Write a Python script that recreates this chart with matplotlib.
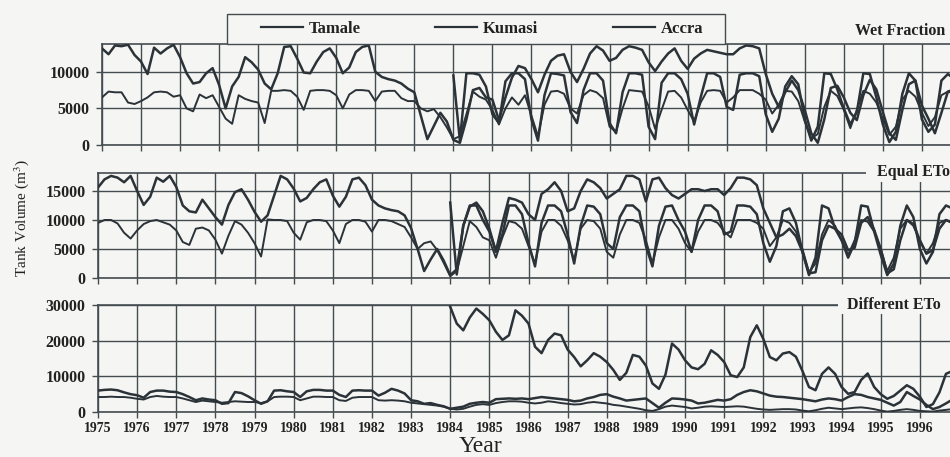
import numpy as np
import matplotlib
matplotlib.use("Agg")
import matplotlib.pyplot as plt
from matplotlib.lines import Line2D
from matplotlib.patches import Rectangle

plt.rcParams['font.family'] = ['Liberation Serif', 'DejaVu Serif']
plt.rcParams['mathtext.fontset'] = 'stix'

# time axis: six readings per year, 1975 .. 1996
years = np.arange(1975, 1997)
steps = np.array([0, 1, 2, 3, 4, 5]) / 6.0
t_all = (years[:, None] + steps[None, :]).ravel()
t_late = t_all[t_all >= 1984]

labels = ["Tamale", "Kumasi", "Accra"]

# --- Wet Fraction (m3) ---
wet_tamale = [
    13200, 12400, 13600, 13500, 13700, 12300,
    11400, 9700, 13300, 12500, 13200, 13700,
    12000, 9800, 8400, 8600, 9800, 10500,
    8200, 5000, 8000, 9300, 12000, 11300,
    10300, 8400, 7600, 9800, 13400, 13500,
    11800, 9900, 9800, 11400, 12700, 13200,
    11900, 9800, 10600, 12700, 13400, 13600,
    10000, 9300, 9000, 8800, 8400, 7700,
    7200, 4000, 800, 2600, 4400, 3200,
    700, 300, 3500, 7500, 7800, 6500,
    6200, 3400, 6500, 9200, 10800, 10500,
    9000, 7200, 9600, 11500, 12200, 12400,
    10000, 8600, 10400, 12500, 13500, 12900,
    11500, 11900, 13000, 13500, 13300, 13000,
    11300, 10100, 11400, 12500, 13200, 11500,
    10400, 11800, 12500, 13000, 12800, 12600,
    12400, 12400, 13200, 13600, 13500, 13200,
    9700, 7000, 5200, 7200, 8800, 7500,
    4800, 1600, 300, 3500, 7800, 8100,
    6500, 4400, 3400, 6800, 8900, 7600,
    4500, 1600, 700, 4800, 8300, 8800,
    5400, 3600, 1600, 4400, 7300, 7600,
]
wet_kumasi = [
    6500, 7300, 7200, 7200, 5800, 5600,
    6000, 6500, 7200, 7300, 7200, 6600,
    6800, 5000, 4600, 6900, 6400, 6800,
    5200, 3600, 2900, 6800, 6300, 6000,
    5800, 3000, 7400, 7400, 7500, 7400,
    6600, 4800, 7400, 7500, 7500, 7400,
    6800, 5000, 6900, 7500, 7500, 7400,
    6000, 7300, 7400, 7400, 6400, 6000,
    6000, 5000, 4600, 4900, 3800, 2400,
    800, 1200, 4200, 7300, 6600, 6200,
    4800, 2800, 5000, 6500, 5500, 6800,
    4000, 1200, 5500, 7300, 7400, 7000,
    5000, 4300, 6800, 7500, 7200, 6400,
    2500, 1800, 5000, 7500, 7400, 7300,
    5300, 2200, 4800, 7300, 7400, 6500,
    4800, 3200, 5800, 7400, 7500, 7400,
    5800, 6500, 7500, 7500, 7500, 7000,
    6200, 4300, 5500, 7400, 7300, 6000,
    3200, 900, 1500, 5200, 7400, 6700,
    4800, 2300, 4800, 7400, 7000, 5800,
    3600, 1400, 2500, 6200, 7400, 6600,
    4400, 2600, 3800, 6800, 7300, 7000,
]
wet_accra = [
    9500, 600, 9800, 9800, 9600, 8000,
    4200, 3000, 8700, 9800, 9800, 9000,
    3500, 600, 6800, 9800, 9700, 9500,
    4500, 3000, 7500, 9800, 9800, 8800,
    3000, 1600, 7200, 9800, 9800, 9600,
    2500, 800, 8500, 9800, 9800, 9000,
    7000, 2800, 6500, 9800, 9800, 9300,
    5200, 4800, 9600, 9800, 9800, 9400,
    4200, 1800, 3600, 8000, 9400, 8300,
    3500, 600, 2500, 9800, 9700, 7600,
    5000, 2800, 4500, 9800, 9700, 6500,
    2800, 400, 1800, 7000, 9800, 8800,
    3500, 1800, 2800, 8800, 9700, 9000,
]

# --- Equal ETo (m3) ---
eq_tamale = [
    15600, 17000, 17600, 17300, 16500, 17600,
    15000, 12600, 14000, 17300, 16600, 17600,
    15700, 12500, 11500, 11300, 13500, 12000,
    10500, 9200, 12600, 14800, 15300, 13500,
    11400, 9700, 10800, 14200, 17600, 17000,
    15400, 13200, 13800, 15300, 16500, 17000,
    14200, 12300, 14000, 17000, 17300, 16000,
    13500, 12500, 12000, 11700, 11500, 10800,
    8600, 5000, 1200, 3200, 5000, 3000,
    500, 1500, 9000, 12300, 13000, 11500,
    8500, 4600, 9500, 13800, 13500, 13000,
    11000, 10000, 14500, 15300, 16500, 15000,
    11500, 12000, 15000, 17000, 16500, 15500,
    13700, 14500, 15300, 17600, 17600, 17000,
    13200, 17000, 17300, 15500, 14300, 13700,
    14500, 15300, 15300, 15000, 15300, 15300,
    14300, 15500, 17300, 17300, 17000, 16000,
    12000, 9500, 7000, 7500, 8500, 7200,
    4500, 800, 1000, 6500, 9000, 8500,
    7500, 4800, 5200, 9500, 10500, 8300,
    5000, 800, 1500, 6500, 10000, 9300,
    6500, 4200, 4800, 8500, 10000, 9500,
]
eq_kumasi = [
    9500, 10000, 10000, 9400, 7800, 6800,
    8200, 9300, 9800, 10000, 9600, 9200,
    8200, 6200, 5700, 8500, 8700, 8200,
    6600, 4200, 7300, 9800, 9200, 7800,
    6000, 3700, 10100, 10000, 10000, 9800,
    7800, 6600, 9600, 10000, 10000, 9800,
    8200, 6000, 9300, 10000, 10000, 9700,
    8000, 10000, 10000, 9800, 9300, 8800,
    7000, 5000, 6000, 6300, 4800, 2600,
    300, 1200, 5500, 9800, 8800, 7000,
    6500, 3500, 7000, 9800, 9500, 8500,
    5500, 2500, 8000, 10000, 10000, 9000,
    6500, 3000, 8500, 10000, 9800, 8500,
    4500, 3500, 7500, 10000, 10000, 9500,
    6500, 2500, 7000, 10000, 10000, 8500,
    6000, 4500, 8000, 10000, 10000, 9500,
    8000, 7000, 10000, 10000, 10000, 9500,
    8500, 5500, 7000, 10000, 9500, 8000,
    5000, 1000, 2500, 7500, 10000, 9000,
    6500, 4000, 6500, 10000, 9700, 8000,
    5000, 1200, 3500, 8500, 10000, 9000,
    6500, 4200, 6000, 9500, 10000, 9500,
]
eq_accra = [
    13000, 600, 9000, 12500, 12500, 10000,
    8000, 4500, 7500, 12500, 12500, 11000,
    6000, 2000, 9500, 12500, 12500, 11500,
    7500, 2500, 9000, 12500, 12300, 11000,
    6000, 5000, 10500, 12500, 12500, 11500,
    5500, 2000, 9000, 12300, 12500, 10000,
    8000, 4500, 10000, 12500, 12500, 11500,
    7500, 8000, 12500, 12500, 12300, 11000,
    6000, 2800, 5500, 11500, 12000, 9500,
    4500, 500, 3500, 12500, 12000, 8500,
    6500, 3500, 6000, 12500, 12300, 8000,
    4000, 500, 2500, 9000, 12500, 10500,
    5000, 2500, 4500, 11000, 12500, 12000,
]

# --- Different ETo (m3) ---
diff_tamale = [
    6000, 6200, 6300, 6100, 5500, 5000,
    4700, 4000, 5600, 6000, 6000, 5700,
    5600, 5000, 4200, 3300, 3800, 3500,
    3300, 2300, 2500, 5600, 5300, 4400,
    3300, 2300, 3000, 6000, 6100, 5800,
    5600, 4200, 5800, 6200, 6200, 6000,
    6000, 4800, 4200, 6000, 6100, 6000,
    6000, 4600, 5400, 6500, 6000, 5200,
    3300, 3000, 2300, 2500, 2000, 1600,
    900, 1200, 1500, 2300, 2600, 2800,
    2600, 3600, 3700, 3800, 3700, 3800,
    3600, 3900, 4200, 4000, 3800, 3600,
    3400, 3000, 3200, 3800, 4200, 4800,
    5000, 4300, 3800, 3200, 3400, 3600,
    3800, 2500, 1200, 2600, 3800, 3700,
    3500, 3200, 2400, 2600, 3000, 3400,
    3200, 3600, 4800, 5600, 6100, 5800,
    5200, 4600, 4300, 4200, 4000, 3800,
    3600, 3300, 3000, 3500, 3800, 3600,
    3200, 4200, 5000, 4800, 4200, 3800,
    3400, 2600, 1800, 2800, 5600, 4500,
    3500, 2000, 800, 1400, 2400, 3500,
]
diff_kumasi = [
    4200, 4200, 4300, 4200, 4200, 4000,
    3700, 3500, 4200, 4500, 4300, 4200,
    4200, 3800, 3300, 2800, 3200, 3000,
    2800, 2600, 2800, 3000, 2900, 2800,
    2800, 2500, 3000, 4200, 4300, 4300,
    4200, 3300, 3800, 4300, 4300, 4200,
    4200, 3300, 3100, 4000, 4200, 4200,
    4200, 3300, 3200, 3300, 3200, 3000,
    2600, 2400, 2200, 2000, 1800, 1500,
    900, 700, 900, 1500, 2000, 2200,
    2000, 2500, 2800, 3000, 3000, 2900,
    2600, 2400, 2600, 3000, 2800, 2500,
    2300, 2100, 2200, 2600, 2800, 2600,
    2400, 2000, 1800, 1500, 1200, 900,
    500, 300, 800, 1500, 1800, 1600,
    1400, 1000, 1200, 1500, 1600, 1500,
    1400, 1500, 1600, 1500, 1200, 900,
    700, 600, 700, 800, 800, 700,
    400, 200, 500, 900, 1200, 1000,
    800, 1000, 1200, 1300, 1100, 800,
    400, 100, 300, 600, 800, 600,
    300, 200, 100, 400, 600, 800,
]
diff_accra = [
    29500, 24800, 22900, 26500, 29000, 27500,
    25700, 22500, 20200, 21500, 28500, 27000,
    24800, 18300, 16500, 20200, 22000, 21500,
    17500, 15400, 12800, 14500, 16500, 15500,
    14000, 11800, 9000, 11000, 16000, 15500,
    13000, 8000, 6500, 10500, 19200, 17500,
    14500, 12500, 12000, 13500, 17300, 16000,
    14000, 10300, 9800, 12500, 21000, 24300,
    20500, 15400, 14500, 16400, 16800, 15500,
    11500, 7000, 6100, 10700, 12500, 10700,
    7000, 5100, 5600, 9000, 10800, 7000,
    5000, 3700, 4500, 6000, 7500, 6500,
    4300, 1400, 2200, 5500, 10700, 11500,
]

panels = [
    ("Wet Fraction", [wet_tamale, wet_kumasi, wet_accra], [0, 5000, 10000], 13800),
    ("Equal ETo", [eq_tamale, eq_kumasi, eq_accra], [0, 5000, 10000, 15000], 18100),
    ("Different ETo", [diff_tamale, diff_kumasi, diff_accra], [0, 10000, 20000, 30000], 30000),
]

bg = '#f5f5f3'
ink = '#2b3338'
grid_c = '#454c50'
txt_c = '#222222'

fig = plt.figure(figsize=(9.5, 4.57), dpi=100, facecolor=bg)
W, H = 950.0, 457.0
# pixel boxes (left, top, bottom) per panel, right edge is the figure edge
boxes = [(102, 44, 145), (98, 173, 278), (98, 305, 412)]
xright = [1996.72, 1996.77, 1996.77]

for i, ((name, series, yt, ytop), (lx, ty, by)) in enumerate(zip(panels, boxes)):
    ax = fig.add_axes([lx / W, 1 - by / H, 1 - lx / W, (by - ty) / H])
    ax.set_facecolor(bg)
    lws = [1.8, 1.4, 1.8]
    for s, lab, lw in zip(series, labels, lws):
        tt = t_all if len(s) == len(t_all) else t_late
        ax.plot(tt, s, color=ink, lw=lw, label=lab, zorder=3)
    ax.set_xlim(1975, xright[i])
    ax.set_ylim(0, ytop)
    ax.set_xticks(years)
    ax.set_yticks(yt)
    ax.grid(True, color=grid_c, lw=1.0)
    ax.set_axisbelow(True)
    ax.spines['right'].set_visible(False)
    for side in ['left', 'top', 'bottom']:
        ax.spines[side].set_color(grid_c)
        ax.spines[side].set_linewidth(1.2)
    ax.tick_params(axis='both', direction='out', length=4, width=1.0, color=grid_c,
                   labelcolor=txt_c)
    ax.tick_params(axis='y', labelsize=11.5, pad=5)
    for lbl in ax.get_yticklabels():
        lbl.set_fontweight('bold')
    if i < 2:
        ax.set_xticklabels([])
    else:
        ax.set_xticklabels([str(y) for y in years], fontsize=10, fontweight='bold')

# blank patches hide the top border where the panel names sit
for (x0, y0, x1, y1) in [(866, 162, 950, 182), (838, 295, 950, 314)]:
    fig.add_artist(Rectangle((x0 / W, 1 - y1 / H), (x1 - x0) / W, (y1 - y0) / H,
                             transform=fig.transFigure, fc=bg, ec='none', zorder=4))

fig.text(855 / W, 1 - 31 / H, "Wet Fraction", fontsize=11.5, fontweight='bold',
         color=txt_c, va='center', ha='left')
fig.text(877 / W, 1 - 172 / H, "Equal ETo", fontsize=11.5, fontweight='bold',
         color=txt_c, va='center', ha='left', zorder=5)
fig.text(847 / W, 1 - 305 / H, "Different ETo", fontsize=11.5, fontweight='bold',
         color=txt_c, va='center', ha='left', zorder=5)

# legend box sitting on top of the first panel
fig.add_artist(Rectangle((227 / W, 1 - 44 / H), 498 / W, 30 / H, transform=fig.transFigure,
                         fc=bg, ec=grid_c, lw=1.0, zorder=4))
handles = [Line2D([], [], color=ink, lw=1.6) for _ in labels]
leg = fig.legend(handles, labels, loc='center', ncol=3,
                 bbox_to_anchor=(482 / W, 1 - 29 / H),
                 borderaxespad=0, frameon=False, handlelength=2.5,
                 handletextpad=0.35, columnspacing=4.5, borderpad=0,
                 prop={'family': 'Liberation Serif', 'weight': 'bold', 'size': 12})
leg.set_zorder(5)
for tx in leg.get_texts():
    tx.set_color(txt_c)

fig.text(22 / W, 1 - 218 / H, "Tank Volume (m$^3$)", rotation=90, fontsize=11,
         ha='center', va='center', color=txt_c)
fig.text(480 / W, 1 - 446 / H, "Year", fontsize=17, ha='center', va='center',
         color=txt_c)

fig.savefig("out.png", dpi=100, facecolor=bg)
